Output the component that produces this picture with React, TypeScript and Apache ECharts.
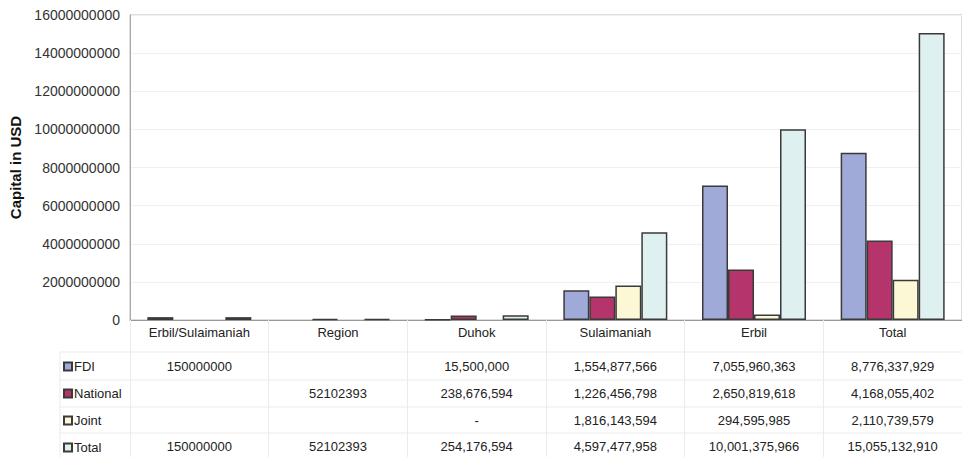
import React, { useEffect, useRef } from "react";
import * as echarts from "echarts";

const categories = ["Erbil/Sulaimaniah", "Region", "Duhok", "Sulaimaniah", "Erbil", "Total"];
const seriesNames = ["FDI", "National", "Joint", "Total"];
const fdi = [150000000, null, 15500000, 1554877566, 7055960363, 8776337929];
const national = [null, 52102393, 238676594, 1226456798, 2650819618, 4168055402];
const joint = [null, null, null, 1816143594, 294595985, 2110739579];
const total = [150000000, 52102393, 254176594, 4597477958, 10001375966, 15055132910];
const fdiText = ["150000000", "", "15,500,000", "1,554,877,566", "7,055,960,363", "8,776,337,929"];
const nationalText = ["", "52102393", "238,676,594", "1,226,456,798", "2,650,819,618", "4,168,055,402"];
const jointText = ["", "", "-", "1,816,143,594", "294,595,985", "2,110,739,579"];
const totalText = ["150000000", "52102393", "254,176,594", "4,597,477,958", "10,001,375,966", "15,055,132,910"];
const colors = ["#a0aad9", "#b5346c", "#fcf7d4", "#dff0f0"];

const FONT = "'Liberation Sans', Arial, sans-serif";

export default function App() {
  const ref = useRef<HTMLDivElement>(null);
  useEffect(() => {
    if (!ref.current) return;
    const chart = echarts.init(ref.current, undefined, { renderer: "svg" });
    const gridLeft = 130;
    const gridTop = 15;
    const gridHeight = 305;
    const values = [fdi, national, joint, total];
    const texts = [fdiText, nationalText, jointText, totalText];
    const rowOffsets = [34, 61, 88, 114];
    const tableAxes = texts.map((row, r) => ({
      type: "category",
      gridIndex: 0,
      position: "bottom",
      offset: rowOffsets[r],
      data: categories,
      axisLine: { show: false },
      axisTick: { show: false },
      splitLine: { show: false },
      axisLabel: {
        interval: 0,
        margin: 6,
        fontSize: 13,
        color: "#222",
        fontFamily: FONT,
        formatter: (_v: string, i: number) => row[i],
      },
    }));
    const hLines = [352, 380, 407, 433].map((y) => ({
      type: "line",
      shape: { x1: 60, y1: y, x2: 962, y2: y },
      style: { stroke: "#ebebeb", lineWidth: 1 },
      silent: true,
    }));
    chart.setOption({
      animation: false,
      textStyle: { fontFamily: FONT },
      grid: {
        left: gridLeft,
        top: gridTop,
        width: 840,
        height: gridHeight,
        show: true,
        borderColor: "#bbb",
        borderWidth: 1,
      },
      legend: {
        orient: "vertical",
        left: 63,
        top: 360,
        padding: 0,
        itemWidth: 8,
        itemHeight: 8,
        itemGap: 14,
        icon: "rect",
        selectedMode: false,
        textStyle: { fontSize: 13, color: "#222", fontFamily: FONT, padding: [0, 0, 0, -3] },
        data: seriesNames,
      },
      xAxis: [
        {
          type: "category",
          gridIndex: 0,
          data: categories,
          axisLine: { show: true, lineStyle: { color: "#999", width: 1 } },
          axisTick: { show: true, length: 137, alignWithLabel: false, lineStyle: { color: "#ebebeb" } },
          axisLabel: { interval: 0, margin: 6, fontSize: 13, color: "#222", fontFamily: FONT },
          splitLine: { show: false },
        },
        ...tableAxes,
      ],
      yAxis: {
        type: "value",
        min: 0,
        max: 16000000000,
        interval: 2000000000,
        name: "Capital in USD",
        nameLocation: "middle",
        nameGap: 106,
        nameTextStyle: { fontSize: 15, fontWeight: "bold", color: "#111", fontFamily: FONT },
        axisLine: { show: true, lineStyle: { color: "#aaa" } },
        axisTick: { show: false },
        axisLabel: { fontSize: 14, color: "#333", margin: 10, fontFamily: FONT, formatter: (v: number) => String(v) },
        splitLine: { show: true, lineStyle: { color: "#f0f0f0" } },
      },
      series: seriesNames.map((name, i) => ({
        name,
        type: "bar",
        xAxisIndex: 0,
        data: values[i],
        barWidth: 26,
        barGap: "0%",
        itemStyle: { color: colors[i], borderColor: "#3a3a3a", borderWidth: 1.5 },
      })),
      graphic: [
        ...hLines,
        {
          type: "line",
          shape: { x1: 60, y1: 352, x2: 60, y2: 457 },
          style: { stroke: "#ebebeb", lineWidth: 1 },
          silent: true,
        },
      ],
    });
    return () => chart.dispose();
  }, []);
  return <div ref={ref} style={{ width: 962, height: 457, position: "absolute", left: 0, top: 0, background: "#fff" }} />;
}
